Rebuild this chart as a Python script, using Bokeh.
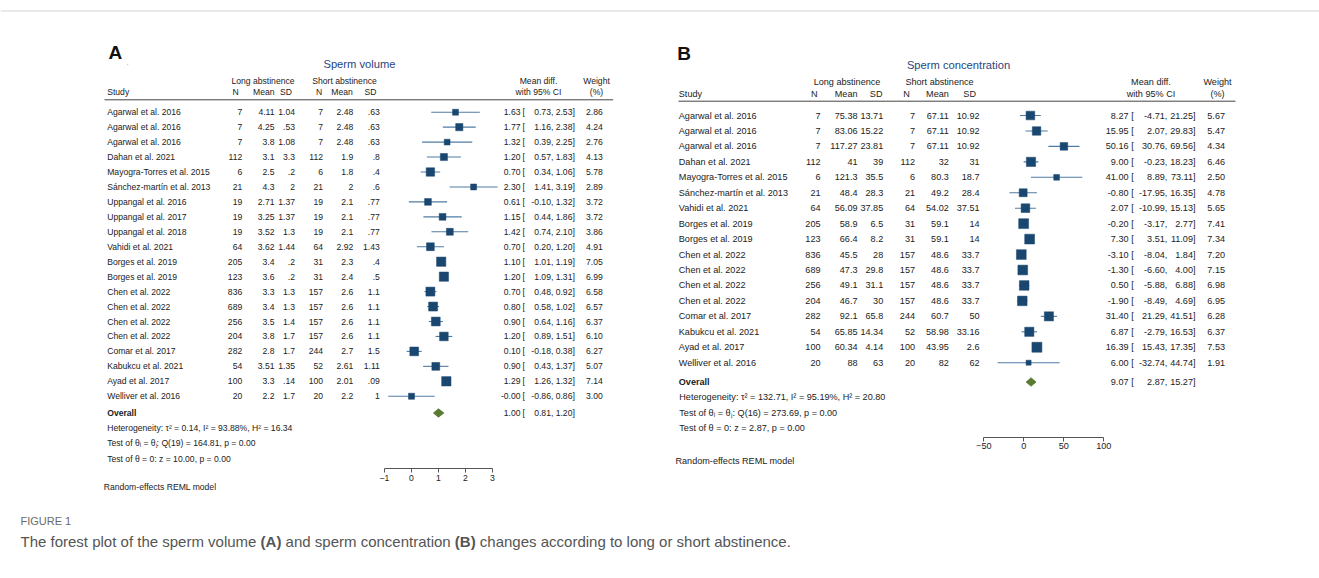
import math
from bokeh.plotting import figure
from bokeh.models import Range1d, LinearAxis, FixedTicker, ColumnDataSource
from bokeh.core.properties import value
from bokeh.embed import file_html
from bokeh.resources import INLINE

# ---------------- data: panel A (sperm volume) ----------------
studies_A = ["Agarwal et al. 2016", "Agarwal et al. 2016", "Agarwal et al. 2016", "Dahan et al. 2021",
             "Mayogra-Torres et al. 2015", "Sánchez-martín et al. 2013", "Uppangal et al. 2016",
             "Uppangal et al. 2017", "Uppangal et al. 2018", "Vahidi et al. 2021", "Borges et al. 2019",
             "Borges et al. 2019", "Chen et al. 2022", "Chen et al. 2022", "Chen et al. 2022",
             "Chen et al. 2022", "Comar et al. 2017", "Kabukcu et al. 2021", "Ayad et al. 2017",
             "Welliver et al. 2016"]
n_long_A = [7, 7, 7, 112, 6, 21, 19, 19, 19, 64, 205, 123, 836, 689, 256, 204, 282, 54, 100, 20]
mean_long_A = [4.11, 4.25, 3.8, 3.1, 2.5, 4.3, 2.71, 3.25, 3.52, 3.62, 3.4, 3.6, 3.3, 3.4, 3.5, 3.8, 2.8, 3.51, 3.3, 2.2]
sd_long_A = [1.04, 0.53, 1.08, 3.3, 0.2, 2, 1.37, 1.37, 1.3, 1.44, 0.2, 0.2, 1.3, 1.3, 1.4, 1.7, 1.7, 1.35, 0.14, 1.7]
n_short_A = [7, 7, 7, 112, 6, 21, 19, 19, 19, 64, 31, 31, 157, 157, 157, 157, 244, 52, 100, 20]
mean_short_A = [2.48, 2.48, 2.48, 1.9, 1.8, 2, 2.1, 2.1, 2.1, 2.92, 2.3, 2.4, 2.6, 2.6, 2.6, 2.6, 2.7, 2.61, 2.01, 2.2]
sd_short_A = [0.63, 0.63, 0.63, 0.8, 0.4, 0.6, 0.77, 0.77, 0.77, 1.43, 0.4, 0.5, 1.1, 1.1, 1.1, 1.1, 1.5, 1.11, 0.09, 1]
md_A = [1.63, 1.77, 1.32, 1.20, 0.70, 2.30, 0.61, 1.15, 1.42, 0.70, 1.10, 1.20, 0.70, 0.80, 0.90, 1.20, 0.10, 0.90, 1.29, -0.00]
lo_A = [0.73, 1.16, 0.39, 0.57, 0.34, 1.41, -0.10, 0.44, 0.74, 0.20, 1.01, 1.09, 0.48, 0.58, 0.64, 0.89, -0.18, 0.43, 1.26, -0.86]
hi_A = [2.53, 2.38, 2.25, 1.83, 1.06, 3.19, 1.32, 1.86, 2.10, 1.20, 1.19, 1.31, 0.92, 1.02, 1.16, 1.51, 0.38, 1.37, 1.32, 0.86]
weight_A = [2.86, 4.24, 2.76, 4.13, 5.78, 2.89, 3.72, 3.72, 3.86, 4.91, 7.05, 6.99, 6.58, 6.57, 6.37, 6.10, 6.27, 5.07, 7.14, 3.00]
overall_A = [1.00, 0.81, 1.20]
ticks_A = [-1, 0, 1, 2, 3]
stats_A = ["Heterogeneity: τ² = 0.14, I² = 93.88%, H² = 16.34",
           "Test of θᵢ = θⱼ: Q(19) = 164.81, p = 0.00",
           "Test of θ = 0: z = 10.00, p = 0.00"]

# ---------------- data: panel B (sperm concentration) ----------------
studies_B = ["Agarwal et al. 2016", "Agarwal et al. 2016", "Agarwal et al. 2016", "Dahan et al. 2021",
             "Mayogra-Torres et al. 2015", "Sánchez-martín et al. 2013", "Vahidi et al. 2021",
             "Borges et al. 2019", "Borges et al. 2019", "Chen et al. 2022", "Chen et al. 2022",
             "Chen et al. 2022", "Chen et al. 2022", "Comar et al. 2017", "Kabukcu et al. 2021",
             "Ayad et al. 2017", "Welliver et al. 2016"]
n_long_B = [7, 7, 7, 112, 6, 21, 64, 205, 123, 836, 689, 256, 204, 282, 54, 100, 20]
mean_long_B = [75.38, 83.06, 117.27, 41, 121.3, 48.4, 56.09, 58.9, 66.4, 45.5, 47.3, 49.1, 46.7, 92.1, 65.85, 60.34, 88]
sd_long_B = [13.71, 15.22, 23.81, 39, 35.5, 28.3, 37.85, 6.5, 8.2, 28, 29.8, 31.1, 30, 65.8, 14.34, 4.14, 63]
n_short_B = [7, 7, 7, 112, 6, 21, 64, 31, 31, 157, 157, 157, 157, 244, 52, 100, 20]
mean_short_B = [67.11, 67.11, 67.11, 32, 80.3, 49.2, 54.02, 59.1, 59.1, 48.6, 48.6, 48.6, 48.6, 60.7, 58.98, 43.95, 82]
sd_short_B = [10.92, 10.92, 10.92, 31, 18.7, 28.4, 37.51, 14, 14, 33.7, 33.7, 33.7, 33.7, 50, 33.16, 2.6, 62]
md_B = [8.27, 15.95, 50.16, 9.00, 41.00, -0.80, 2.07, -0.20, 7.30, -3.10, -1.30, 0.50, -1.90, 31.40, 6.87, 16.39, 6.00]
lo_B = [-4.71, 2.07, 30.76, -0.23, 8.89, -17.95, -10.99, -3.17, 3.51, -8.04, -6.60, -5.88, -8.49, 21.29, -2.79, 15.43, -32.74]
hi_B = [21.25, 29.83, 69.56, 18.23, 73.11, 16.35, 15.13, 2.77, 11.09, 1.84, 4.00, 6.88, 4.69, 41.51, 16.53, 17.35, 44.74]
weight_B = [5.67, 5.47, 4.34, 6.46, 2.50, 4.78, 5.65, 7.41, 7.34, 7.20, 7.15, 6.98, 6.95, 6.28, 6.37, 7.53, 1.91]
overall_B = [9.07, 2.87, 15.27]
ticks_B = [-50, 0, 50, 100]
stats_B = ["Heterogeneity: τ² = 132.71, I² = 95.19%, H² = 20.80",
           "Test of θᵢ = θⱼ: Q(16) = 273.69, p = 0.00",
           "Test of θ = 0: z = 2.87, p = 0.00"]

# ---------------- page / figure ----------------
W, H = 1319, 578
OFF = 0
FONT = value("Liberation Sans")
TXT = "#222222"
NAVY = "#1a476f"
CI = "#4f7ca5"
GREEN = "#587b31"
TITLE = "#28467f"

p = figure(width=W, height=H, output_backend="svg", toolbar_location=None,
           x_range=Range1d(OFF, OFF + W), y_range=Range1d(OFF + H, OFF),
           x_axis_type=None, y_axis_type=None, min_border=0)
p.outline_line_color = None
p.background_fill_color = "white"
p.border_fill_color = "white"


def lin_range(px0, px1, v0, v1, lo_px, hi_px):
    b = (px1 - px0) / (v1 - v0)
    a = px0 - b * v0
    return Range1d(start=(lo_px - a) / b, end=(hi_px - a) / b)


def row_range(y0, step):
    return Range1d(start=(OFF + H - y0) / step, end=(OFF - y0) / step)


def sfmt(v):
    s = f"{v:g}"
    if s.startswith("0."):
        s = s[1:]
    return s


def txt(x, y, texts, align="left", size="8.6px", bold=False, color=TXT, yname="default", baseline="middle"):
    n = len(texts)
    xs = x if isinstance(x, list) else [x] * n
    ys = y if isinstance(y, list) else [y] * n
    src = ColumnDataSource(dict(x=xs, y=ys, t=texts))
    p.text(x="x", y="y", text="t", source=src, text_align=align, text_baseline=baseline,
           text_font=FONT, text_font_size=value(size), text_font_style="bold" if bold else "normal",
           text_color=color, y_range_name=yname)


panels = [
    dict(key="A", letter=("A", 108, 51.7), title=("Sperm volume", 359, 63.3),
         studies=studies_A, cols=[n_long_A, mean_long_A, sd_long_A, n_short_A, mean_short_A, sd_short_A],
         md=md_A, lo=lo_A, hi=hi_A, w=weight_A, overall=overall_A, ticks=ticks_A, stats=stats_A,
         fs="8.6px", study_x=106.7, col_r=[241.7, 274, 294.5, 322.5, 352.7, 379.3],
         hdr_r=[238.3, 274, 291.5, 321.7, 352.3, 376], grp=[(262.5, "Long abstinence"), (344, "Short abstinence")],
         hdr_y=(80.7, 91.7), line=(104, 612.7, 99.3),
         est_r=520, br_l=522, lo_r=552.8, hi_r=574.3, w_r=602.3, md_c=538, w_c=596,
         row0=111.7, step=14.95, ov_off=0.12, stats_y=[427.3, 442.7, 458.3], stats_x=106.7,
         re=(103.3, 486.7), axis_y=468, xmap=(384, 492, -1, 3), k=3.5),
    dict(key="B", letter=("B", 676.7, 52.5), title=("Sperm concentration", 958, 64),
         studies=studies_B, cols=[n_long_B, mean_long_B, sd_long_B, n_short_B, mean_short_B, sd_short_B],
         md=md_B, lo=lo_B, hi=hi_B, w=weight_B, overall=overall_B, ticks=ticks_B, stats=stats_B,
         fs="9.1px", study_x=678.3, col_r=[820, 857, 882.7, 914.5, 948.3, 979],
         hdr_r=[817, 857, 882, 909.3, 948.3, 975.5], grp=[(846.5, "Long abstinence"), (939, "Short abstinence")],
         hdr_y=(81.7, 93.3), line=(678, 1235, 100.7),
         est_r=1128, br_l=1130.7, lo_r=1166.8, hi_r=1195, w_r=1224.5, md_c=1150.5, w_c=1217,
         row0=115, step=15.45, ov_off=0.25, stats_y=[396.7, 412.3, 427.7], stats_x=678.8,
         re=(675, 460.7), axis_y=436.7, xmap=(983.3, 1103.3, -50, 100), k=3.64),
]

p.extra_x_ranges = {}
p.extra_y_ranges = {}
for P in panels:
    key = P["key"]
    px0, px1, v0, v1 = P["xmap"]
    p.extra_x_ranges["md" + key] = lin_range(px0, px1, v0, v1, OFF, OFF + W)
    p.extra_y_ranges["row" + key] = row_range(P["row0"], P["step"])

# top border of figure box
p.line(x=[OFF, OFF + W], y=[10.5, 10.5], line_color="#d4d4d4", line_width=1)

for P in panels:
    key = P["key"]
    xr, yr = "md" + key, "row" + key
    fs = P["fs"]
    n = len(P["studies"])
    rows = list(range(n))

    # panel letter and title
    L, lx, ly = P["letter"]
    txt(lx, ly, [L], size="19px", bold=True, color="#111111")
    T, tx, ty = P["title"]
    txt(tx, ty, [T], align="center", size="11.2px", color=TITLE)

    # headers
    for cx, g in P["grp"]:
        txt(cx, P["hdr_y"][0], [g], align="center", size=fs)
    txt(P["study_x"], P["hdr_y"][1], ["Study"], size=fs)
    for xr_, h in zip(P["hdr_r"], ["N", "Mean", "SD", "N", "Mean", "SD"]):
        txt(xr_, P["hdr_y"][1], [h], align="right", size=fs)
    txt(P["md_c"], P["hdr_y"][0], ["Mean diff."], align="center", size=fs)
    txt(P["md_c"], P["hdr_y"][1], ["with 95% CI"], align="center", size=fs)
    txt(P["w_c"], P["hdr_y"][0], ["Weight"], align="center", size=fs)
    txt(P["w_c"], P["hdr_y"][1], ["(%)"], align="center", size=fs)
    lx0, lx1, lyy = P["line"]
    p.line(x=[lx0, lx1], y=[lyy, lyy], line_color="#444444", line_width=1)

    # study rows text
    txt(P["study_x"], rows, P["studies"], size=fs, yname=yr)
    for xr_, col in zip(P["col_r"], P["cols"]):
        txt(xr_, rows, [sfmt(v) for v in col], align="right", size=fs, yname=yr)
    txt(P["est_r"], rows, [f"{v:.2f}" for v in P["md"]], align="right", size=fs, yname=yr)
    txt(P["br_l"], rows, ["["] * n, size=fs, yname=yr)
    txt(P["lo_r"], rows, [f"{v:.2f}," for v in P["lo"]], align="right", size=fs, yname=yr)
    txt(P["hi_r"], rows, [f"{v:.2f}]" for v in P["hi"]], align="right", size=fs, yname=yr)
    txt(P["w_r"], rows, [f"{v:.2f}" for v in P["w"]], align="right", size=fs, yname=yr)

    # CI lines and weighted squares
    src = ColumnDataSource(dict(row=rows, md=P["md"], lo=P["lo"], hi=P["hi"],
                                sz=[P["k"] * math.sqrt(w) for w in P["w"]]))
    p.segment(x0="lo", y0="row", x1="hi", y1="row", source=src, line_color=CI, line_width=1.1,
              x_range_name=xr, y_range_name=yr)
    p.scatter(x="md", y="row", size="sz", marker="square", source=src, fill_color=NAVY,
              line_color=NAVY, line_width=0.5, x_range_name=xr, y_range_name=yr)

    # overall row
    est, olo, ohi = P["overall"]
    ov = n + P["ov_off"]
    hh = 4.2 / P["step"]
    p.patch(x=[olo, est, ohi, est], y=[ov, ov - hh, ov, ov + hh], fill_color=GREEN, line_color=GREEN,
            line_width=0.8, x_range_name=xr, y_range_name=yr)
    txt(P["study_x"], [ov], ["Overall"], size=fs, bold=True, yname=yr)
    txt(P["est_r"], [ov], [f"{est:.2f}"], align="right", size=fs, yname=yr)
    txt(P["br_l"], [ov], ["["], size=fs, yname=yr)
    txt(P["lo_r"], [ov], [f"{olo:.2f},"], align="right", size=fs, yname=yr)
    txt(P["hi_r"], [ov], [f"{ohi:.2f}]"], align="right", size=fs, yname=yr)

    # heterogeneity statistics
    txt(P["stats_x"], P["stats_y"], P["stats"], size=fs)
    txt(P["re"][0], P["re"][1], ["Random-effects REML model"], size=fs)

    # effect axis
    ax = LinearAxis(x_range_name=xr, fixed_location=P["axis_y"],
                    bounds=(min(P["ticks"]), max(P["ticks"])),
                    ticker=FixedTicker(ticks=P["ticks"]))
    ax.axis_line_color = "#555555"
    ax.major_tick_line_color = "#555555"
    ax.minor_tick_line_color = None
    ax.major_tick_out = 4
    ax.major_tick_in = 0
    ax.major_label_standoff = 2
    ax.major_label_text_font = "Liberation Sans"
    ax.major_label_text_font_size = fs
    ax.major_label_text_color = TXT
    p.add_layout(ax, "below")

# tiny artefact dot in panel A
txt(126, 62, ["."], size="8px", color="#9a9a9a")

# ---------------- caption ----------------
AW = {" ": 278, "(": 333, ")": 333, ".": 278, "A": 667, "B": 667, "T": 611, "a": 556, "b": 556,
      "c": 500, "d": 556, "e": 556, "f": 278, "g": 556, "h": 556, "i": 222, "l": 222, "m": 833,
      "n": 556, "o": 556, "p": 556, "r": 333, "s": 500, "t": 278, "u": 556, "v": 500, "y": 500}
AWB = {"(": 333, ")": 333, "A": 722, "B": 722}


def width(s, size, bold=False):
    tab = AWB if bold else AW
    return sum(tab.get(c, 556) for c in s) / 1000.0 * size


CAP_FS = 15.0
cap_pieces = [("The forest plot of the sperm volume", False), (" ", False), ("(A)", True),
              (" ", False), ("and sperm concentration", False), (" ", False), ("(B)", True),
              (" ", False), ("changes according to long or short abstinence.", False)]
txt(20, 520, ["FIGURE 1"], size="11px", color="#6a6a6a")
cx = 20.0
for s, b in cap_pieces:
    if s.strip():
        txt(cx, 541, [s], size=f"{CAP_FS}px", bold=b, color="#555555")
    cx += width(s, CAP_FS, b)

open("out.html", "w").write(file_html(p, INLINE))
